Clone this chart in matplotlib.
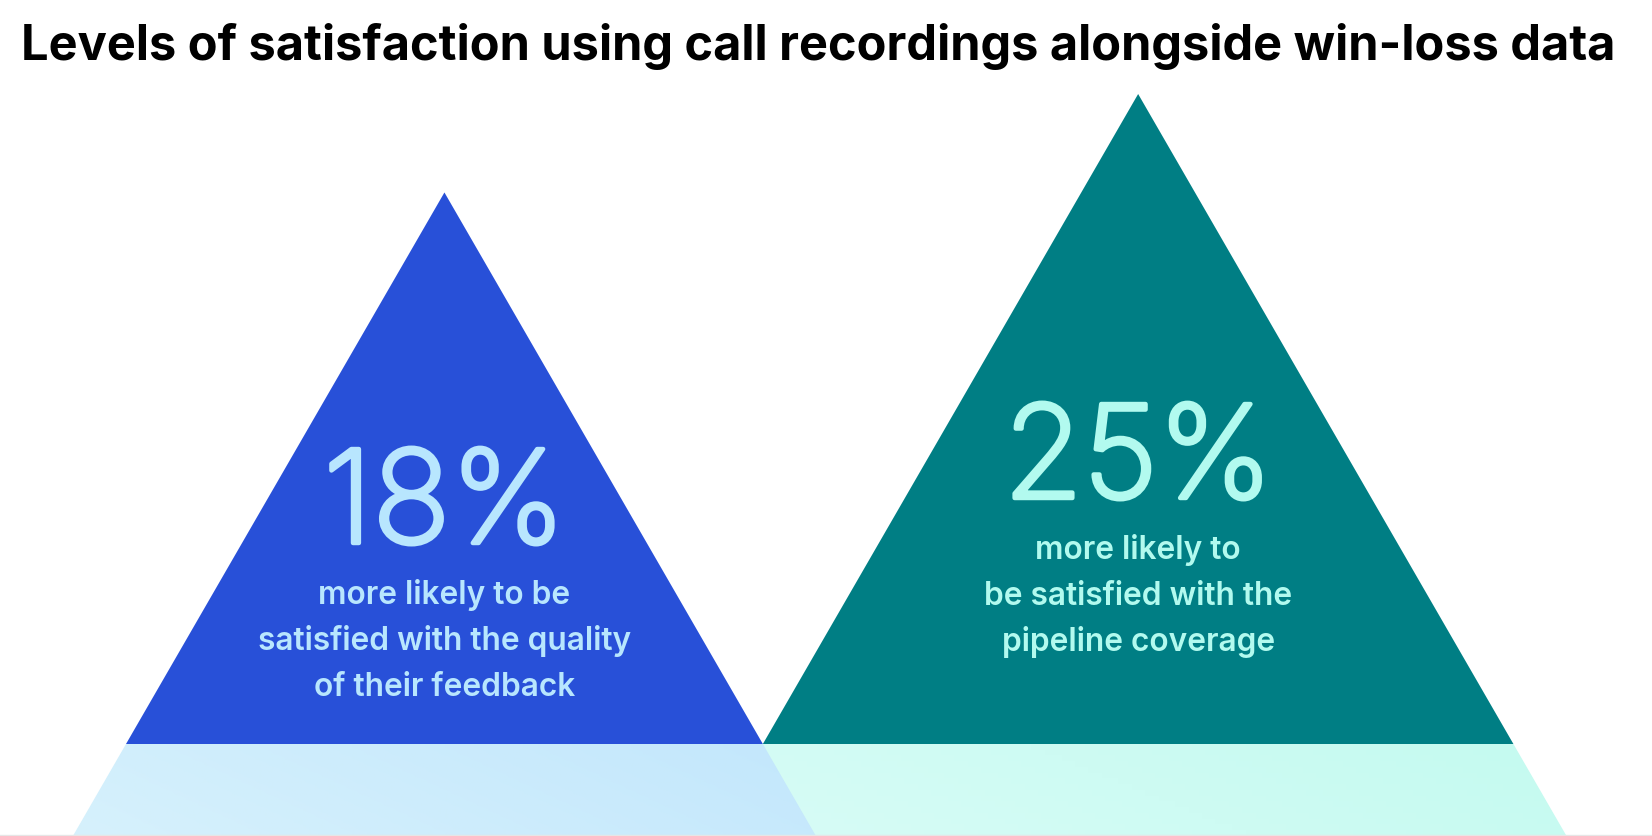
import numpy as np
import matplotlib.pyplot as plt
import matplotlib.patheffects as pe
from matplotlib.patches import Polygon

# --- data ---
labels = ["18%", "25%"]
values = np.array([18, 25])
descriptions = [
    ["more likely to be", "satisfied with the quality", "of their feedback"],
    ["more likely to", "be satisfied with the", "pipeline coverage"],
]
title = "Levels of satisfaction using call recordings alongside win-loss data"

# --- styles ---
fill_colors = ["#2850D8", "#007E84"]
text_colors = ["#B8E6FE", "#B2FAEF"]
band_left = ["#D6F1FC", "#D8FCF6"]
band_right = ["#C3E7FC", "#C4FAF0"]

W, H = 1652, 836
base_y = 744          # baseline of the triangles (px from top)
scale = 130.0         # height per sqrt(percent), area ~ value
start_x = 126         # left corner of first triangle
num_offset = [201, 246]   # number baseline above triangle base

fig = plt.figure(figsize=(W / 100, H / 100), dpi=100)
ax = fig.add_axes([0, 0, 1, 1])
ax.set_xlim(0, W)
ax.set_ylim(H, 0)
ax.axis("off")

heights = scale * np.sqrt(values)
half_w = heights / np.sqrt(3)
lefts = start_x + np.concatenate([[0], np.cumsum(2 * half_w)[:-1]])
centers = lefts + half_w


def hex2rgb(c):
    c = c.lstrip("#")
    return np.array([int(c[i:i + 2], 16) / 255 for i in (0, 2, 4)])


# light bands below the base, teal first so blue sits on top
for i in [1, 0]:
    cx, hw, h = centers[i], half_w[i], heights[i]
    ext = (H - base_y) / np.sqrt(3)
    pts = [(cx - hw, base_y), (cx + hw, base_y), (cx + hw + ext, H), (cx - hw - ext, H)]
    poly = Polygon(pts, closed=True, facecolor="none", edgecolor="none")
    ax.add_patch(poly)
    gx = np.linspace(0, 1, 256)
    gy = np.linspace(0, 1, 16)
    t = np.clip(0.8 * gx[None, :] + 0.2 * (1 - gy[:, None]), 0, 1)
    c0, c1 = hex2rgb(band_left[i]), hex2rgb(band_right[i])
    img = c0[None, None, :] * (1 - t[..., None]) + c1[None, None, :] * t[..., None]
    im = ax.imshow(img, extent=(cx - hw - ext, cx + hw + ext, H, base_y),
                   aspect="auto", zorder=1)
    im.set_clip_path(poly)

# triangles
for i in range(len(values)):
    cx, hw, h = centers[i], half_w[i], heights[i]
    tri = Polygon([(cx - hw, base_y), (cx + hw, base_y), (cx, base_y - h)],
                  closed=True, facecolor=fill_colors[i], edgecolor="none", zorder=2)
    ax.add_patch(tri)

    y_num = base_y - num_offset[i]
    # thin cut of Inter, thickened a bit to match the reference weight
    ax.text(cx, y_num, labels[i], ha="center", va="baseline", fontsize=93,
            family="Inter", weight="light", color=text_colors[i], zorder=3,
            path_effects=[pe.withStroke(linewidth=3.2, foreground=text_colors[i])])
    for j, line in enumerate(descriptions[i]):
        ax.text(cx, y_num + 61 + 46 * j, line, ha="center", va="baseline",
                fontsize=22.8, family="Inter", weight="semibold",
                color=text_colors[i], zorder=3)

ax.axhline(H - 1, color="#E6E6E6", linewidth=1, zorder=4)

ax.text(21, 60, title, ha="left", va="baseline", fontsize=35.1,
        family="Inter", weight="bold", color="black")

fig.savefig("out.png", dpi=100)
